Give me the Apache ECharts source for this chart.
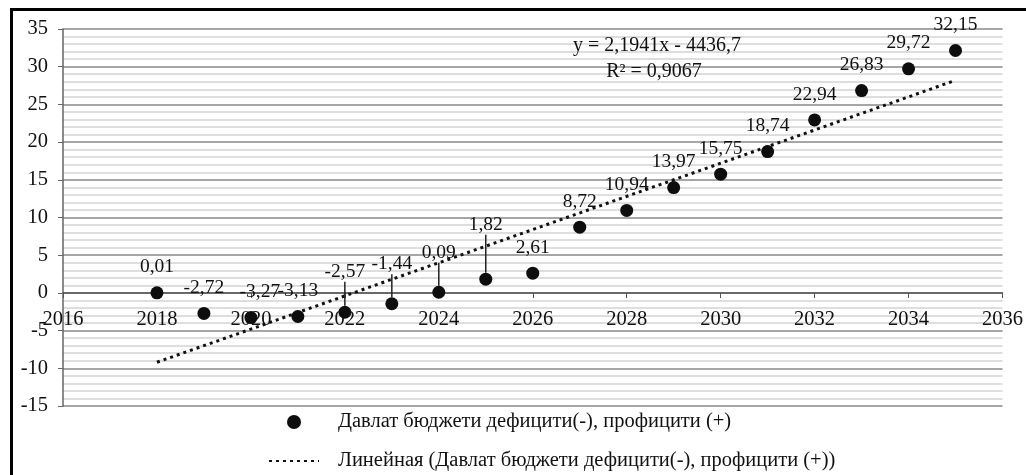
<!DOCTYPE html>
<html>
<head>
<meta charset="utf-8">
<script src="https://cdn.jsdelivr.net/npm/echarts@6/dist/echarts.min.js"></script>
<style>
  html, body { margin: 0; padding: 0; background: #fff; }
  #chart1 { width: 1026px; height: 475px; }
</style>
</head>
<body>
<div id="chart1"></div>
<script>
// данные
var years = [2018, 2019, 2020, 2021, 2022, 2023, 2024, 2025, 2026, 2027, 2028, 2029, 2030, 2031, 2032, 2033, 2034, 2035];
var balance = [0.01, -2.72, -3.27, -3.13, -2.57, -1.44, 0.09, 1.82, 2.61, 8.72, 10.94, 13.97, 15.75, 18.74, 22.94, 26.83, 29.72, 32.15];
var trendYears = [2018, 2035];
var trendValues = [-9.2, 28.2];
var seriesName = 'Давлат бюджети дефицити(-), профицити (+)';
var trendName = 'Линейная (Давлат бюджети дефицити(-), профицити (+))';
var eqLine1 = 'y = 2,1941x - 4436,7';
var eqLine2 = 'R² = 0,9067';

// сдвиги подписей (индекс -> [dx, dy]), с выноской если dy != 0
var labelShift = { 2: [9, 0], 4: [0, -15], 5: [0, -14], 6: [0, -14], 7: [0, -29] };

var serif = '"Liberation Serif", "DejaVu Serif", serif';

var chart1 = echarts.init(document.getElementById('chart1'));

var scatterData = years.map(function (y, i) {
    var item = { value: [y, balance[i]] };
    var s = labelShift[i];
    if (s && s[1] !== 0) {
        item.labelLine = { show: true };
    }
    return item;
});
var trendData = trendYears.map(function (y, i) { return [y, trendValues[i]]; });

var option1 = {
    animation: false,
    grid: { left: 63, right: 22, top: 29, bottom: 69 },
    graphic: [
        {
            type: 'rect', left: 9, top: 7, z: 100,
            shape: { width: 1030, height: 480 },
            style: { fill: 'none', stroke: '#000', lineWidth: 3 }
        },
        {
            type: 'text', x: 657, y: 46, z: 100,
            style: { text: eqLine1, font: '20px ' + serif, fill: '#111', align: 'center', verticalAlign: 'middle' }
        },
        {
            type: 'text', x: 654, y: 72, z: 100,
            style: { text: eqLine2, font: '20px ' + serif, fill: '#111', align: 'center', verticalAlign: 'middle' }
        }
    ],
    legend: {
        orient: 'vertical',
        left: 268,
        top: 411,
        padding: 0,
        itemWidth: 50,
        itemHeight: 14,
        itemGap: 17,
        textStyle: { fontFamily: serif, fontSize: 20.5, lineHeight: 22, color: '#111', padding: [0, 0, 0, 14] },
        data: [
            seriesName,
            { name: trendName, itemStyle: { opacity: 0 } }
        ]
    },
    xAxis: {
        type: 'value',
        min: 2016, max: 2036, interval: 2,
        offset: -113,
        axisLine: { onZero: false, lineStyle: { color: '#555', width: 1.5 } },
        axisTick: { show: true, length: 5, lineStyle: { color: '#555' } },
        axisLabel: {
            margin: 16, color: '#111', fontFamily: serif, fontSize: 20.5,
            formatter: function (v) { return String(v); }
        },
        splitLine: { show: false }
    },
    yAxis: {
        type: 'value',
        min: -15, max: 35, interval: 5,
        axisLine: { show: true, onZero: false, lineStyle: { color: '#666', width: 1.5 } },
        axisTick: { show: true, length: 5, lineStyle: { color: '#666' } },
        axisLabel: { margin: 15, color: '#111', fontFamily: serif, fontSize: 20.5 },
        splitLine: { show: true, lineStyle: { color: '#888', width: 1.5 } },
        minorTick: { show: false, splitNumber: 5 },
        minorSplitLine: { show: true, lineStyle: { color: '#d4d4d4', width: 1.5 } }
    },
    series: [
        {
            name: seriesName,
            type: 'scatter',
            symbol: 'circle',
            symbolSize: 13,
            itemStyle: { color: '#0d0d0d', opacity: 1 },
            label: {
                show: true,
                position: 'top',
                distance: 9,
                color: '#111',
                fontFamily: serif,
                fontSize: 19.5,
                formatter: function (p) { return p.value[1].toFixed(2).replace('.', ','); }
            },
            labelLayout: function (p) {
                var s = labelShift[p.dataIndex];
                return s ? { dx: s[0], dy: s[1] } : {};
            },
            labelLine: { show: false, lineStyle: { color: '#222', width: 1.5 } },
            z: 3,
            data: scatterData
        },
        {
            name: trendName,
            type: 'line',
            symbol: 'none',
            showSymbol: false,
            lineStyle: { color: '#111', width: 3, type: [3, 4] },
            itemStyle: { color: '#111' },
            z: 2,
            data: trendData
        }
    ]
};

chart1.setOption(option1);

window.onresize = function () {
    chart1.resize();
};
</script>
</body>
</html>
